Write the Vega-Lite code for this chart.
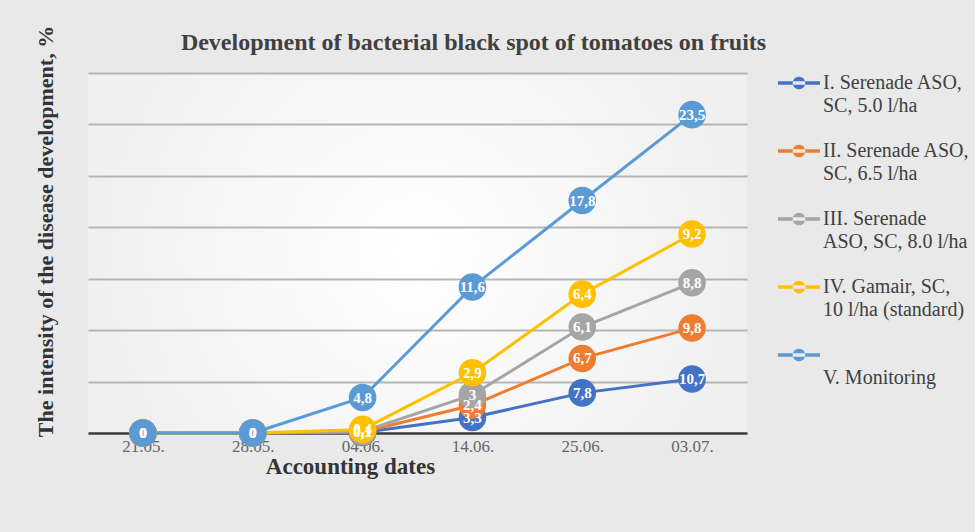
{
  "$schema": "https://vega.github.io/schema/vega-lite/v6.json",
  "autosize": {"type": "none"},
  "width": 659,
  "height": 360,
  "padding": {"left": 88, "top": 73, "right": 228, "bottom": 99},
  "background": "#e9e9e9",
  "title": {
    "text": "Development of bacterial black spot of tomatoes on fruits",
    "font": "Liberation Serif",
    "fontSize": 24,
    "fontWeight": "bold",
    "color": "#404040",
    "anchor": "middle",
    "dx": 56,
    "offset": -30
  },
  "config": {
    "view": {"stroke": null, "fill": {"gradient": "radial", "stops": [{"offset": 0, "color": "#ffffff"}, {"offset": 1, "color": "#f0f0f0"}]}},
    "font": "Liberation Serif",
    "style": {"guide-label": {"lineHeight": 23}}
  },
  "data": {
    "values": [
      {"date": "21.05.", "d": 1, "s": 1, "series": "I. Serenade ASO, SC, 5.0 l/ha", "value": 0, "label": "0"},
      {"date": "28.05.", "d": 2, "s": 1, "series": "I. Serenade ASO, SC, 5.0 l/ha", "value": 0, "label": "0"},
      {"date": "04.06.", "d": 3, "s": 1, "series": "I. Serenade ASO, SC, 5.0 l/ha", "value": 0.1, "label": "0,1"},
      {"date": "14.06.", "d": 4, "s": 1, "series": "I. Serenade ASO, SC, 5.0 l/ha", "value": 3.0, "label": "3,3"},
      {"date": "25.06.", "d": 5, "s": 1, "series": "I. Serenade ASO, SC, 5.0 l/ha", "value": 7.8, "label": "7,8"},
      {"date": "03.07.", "d": 6, "s": 1, "series": "I. Serenade ASO, SC, 5.0 l/ha", "value": 10.5, "label": "10,7"},
      {"date": "21.05.", "d": 1, "s": 2, "series": "II. Serenade ASO, SC, 6.5 l/ha", "value": 0, "label": "0"},
      {"date": "28.05.", "d": 2, "s": 2, "series": "II. Serenade ASO, SC, 6.5 l/ha", "value": 0, "label": "0"},
      {"date": "04.06.", "d": 3, "s": 2, "series": "II. Serenade ASO, SC, 6.5 l/ha", "value": 0.1, "label": "0,1"},
      {"date": "14.06.", "d": 4, "s": 2, "series": "II. Serenade ASO, SC, 6.5 l/ha", "value": 2.4, "label": "2,4"},
      {"date": "25.06.", "d": 5, "s": 2, "series": "II. Serenade ASO, SC, 6.5 l/ha", "value": 6.7, "label": "6,7"},
      {"date": "03.07.", "d": 6, "s": 2, "series": "II. Serenade ASO, SC, 6.5 l/ha", "value": 9.9, "label": "9,8"},
      {"date": "21.05.", "d": 1, "s": 3, "series": "III. Serenade ASO, SC, 8.0 l/ha", "value": 0, "label": "0"},
      {"date": "28.05.", "d": 2, "s": 3, "series": "III. Serenade ASO, SC, 8.0 l/ha", "value": 0, "label": "0"},
      {"date": "04.06.", "d": 3, "s": 3, "series": "III. Serenade ASO, SC, 8.0 l/ha", "value": 0.1, "label": "0,1"},
      {"date": "14.06.", "d": 4, "s": 3, "series": "III. Serenade ASO, SC, 8.0 l/ha", "value": 2.0, "label": "3"},
      {"date": "25.06.", "d": 5, "s": 3, "series": "III. Serenade ASO, SC, 8.0 l/ha", "value": 6.1, "label": "6,1"},
      {"date": "03.07.", "d": 6, "s": 3, "series": "III. Serenade ASO, SC, 8.0 l/ha", "value": 8.8, "label": "8,8"},
      {"date": "21.05.", "d": 1, "s": 4, "series": "IV. Gamair, SC, 10 l/ha (standard)", "value": 0, "label": "0"},
      {"date": "28.05.", "d": 2, "s": 4, "series": "IV. Gamair, SC, 10 l/ha (standard)", "value": 0, "label": "0"},
      {"date": "04.06.", "d": 3, "s": 4, "series": "IV. Gamair, SC, 10 l/ha (standard)", "value": 0.4, "label": "0,4"},
      {"date": "14.06.", "d": 4, "s": 4, "series": "IV. Gamair, SC, 10 l/ha (standard)", "value": 4.3, "label": "2,9"},
      {"date": "25.06.", "d": 5, "s": 4, "series": "IV. Gamair, SC, 10 l/ha (standard)", "value": 6.4, "label": "6,4"},
      {"date": "03.07.", "d": 6, "s": 4, "series": "IV. Gamair, SC, 10 l/ha (standard)", "value": 9.5, "label": "9,2"},
      {"date": "21.05.", "d": 1, "s": 5, "series": "V. Monitoring", "value": 0, "label": "0"},
      {"date": "28.05.", "d": 2, "s": 5, "series": "V. Monitoring", "value": 0, "label": "0"},
      {"date": "04.06.", "d": 3, "s": 5, "series": "V. Monitoring", "value": 6.2, "label": "4,8"},
      {"date": "14.06.", "d": 4, "s": 5, "series": "V. Monitoring", "value": 16.7, "label": "11,6"},
      {"date": "25.06.", "d": 5, "s": 5, "series": "V. Monitoring", "value": 18.2, "label": "17,8"},
      {"date": "03.07.", "d": 6, "s": 5, "series": "V. Monitoring", "value": 23.2, "label": "23,5"}
    ]
  },
  "transform": [
    {"stack": "value", "groupby": ["date"], "sort": [{"field": "s", "order": "ascending"}], "as": ["y0", "y1"]}
  ],
  "encoding": {
    "x": {
      "field": "date",
      "type": "ordinal",
      "sort": null,
      "scale": {"type": "point", "padding": 0.5},
      "axis": {
        "title": "Accounting dates",
        "titleFont": "Liberation Serif",
        "titleFontSize": 23,
        "titleFontWeight": "bold",
        "titleColor": "#333333",
        "titlePadding": 1,
        "titleX": 262,
        "titleAlign": "center",
        "labelFont": "Liberation Serif",
        "labelFontSize": 17,
        "labelColor": "#666666",
        "labelAngle": 0,
        "labelPadding": 5,
        "ticks": false,
        "grid": false,
        "domainColor": "#3a3a3a",
        "domainWidth": 2.5
      }
    },
    "y": {
      "field": "y1",
      "type": "quantitative",
      "scale": {"domain": [0, 70], "nice": false},
      "axis": {
        "title": "The intensity of the disease development, %",
        "titleFont": "Liberation Serif",
        "titleFontSize": 22,
        "titleFontWeight": "bold",
        "titleColor": "#333333",
        "titleX": -43,
        "titleY": 158,
        "titleAngle": -90,
        "titleAlign": "center",
        "titleBaseline": "middle",
        "labels": false,
        "ticks": false,
        "domain": false,
        "values": [10, 20, 30, 40, 50, 60, 70],
        "grid": true,
        "gridColor": "#b5b5b5",
        "gridWidth": 2
      }
    },
    "color": {
      "field": "series",
      "type": "nominal",
      "sort": null,
      "scale": {
        "domain": ["I. Serenade ASO, SC, 5.0 l/ha", "II. Serenade ASO, SC, 6.5 l/ha", "III. Serenade ASO, SC, 8.0 l/ha", "IV. Gamair, SC, 10 l/ha (standard)", "V. Monitoring"],
        "range": ["#4472C4", "#ED7D31", "#A5A5A5", "#FFC000", "#5B9BD5"]
      },
      "legend": {
        "title": null,
        "orient": "none",
        "legendX": 690,
        "legendY": -11,
        "labelFont": "Liberation Serif",
        "labelFontSize": 20,
        "labelColor": "#404040",
        "labelLimit": 0,
        "rowPadding": 14,
        "labelOffset": 3,
        "symbolType": "M-1,-0.08H1V0.08H-1Z M-0.3,0A0.3,0.3 0 1,0 0.3,0A0.3,0.3 0 1,0 -0.3,0Z",
        "symbolSize": 1764,
        "symbolStrokeWidth": 0,
        "labelExpr": "datum.label == 'I. Serenade ASO, SC, 5.0 l/ha' ? ['I. Serenade ASO,', 'SC, 5.0 l/ha'] : datum.label == 'II. Serenade ASO, SC, 6.5 l/ha' ? ['II. Serenade ASO,', 'SC, 6.5 l/ha'] : datum.label == 'III. Serenade ASO, SC, 8.0 l/ha' ? ['III. Serenade', 'ASO, SC, 8.0 l/ha'] : datum.label == 'IV. Gamair, SC, 10 l/ha (standard)' ? ['IV. Gamair, SC,', '10 l/ha (standard)'] : ['', 'V. Monitoring']"
      }
    }
  },
  "layer": [
    {"mark": {"type": "line", "strokeWidth": 3}, "encoding": {"order": {"field": "d", "type": "quantitative"}}},
    {"mark": {"type": "point", "shape": "circle", "filled": true, "size": 760, "opacity": 1}},
    {
      "mark": {"type": "text", "font": "Liberation Serif", "fontSize": 15, "fontWeight": "bold", "baseline": "middle"},
      "encoding": {"text": {"field": "label"}, "color": {"value": "#ffffff"}}
    }
  ]
}
